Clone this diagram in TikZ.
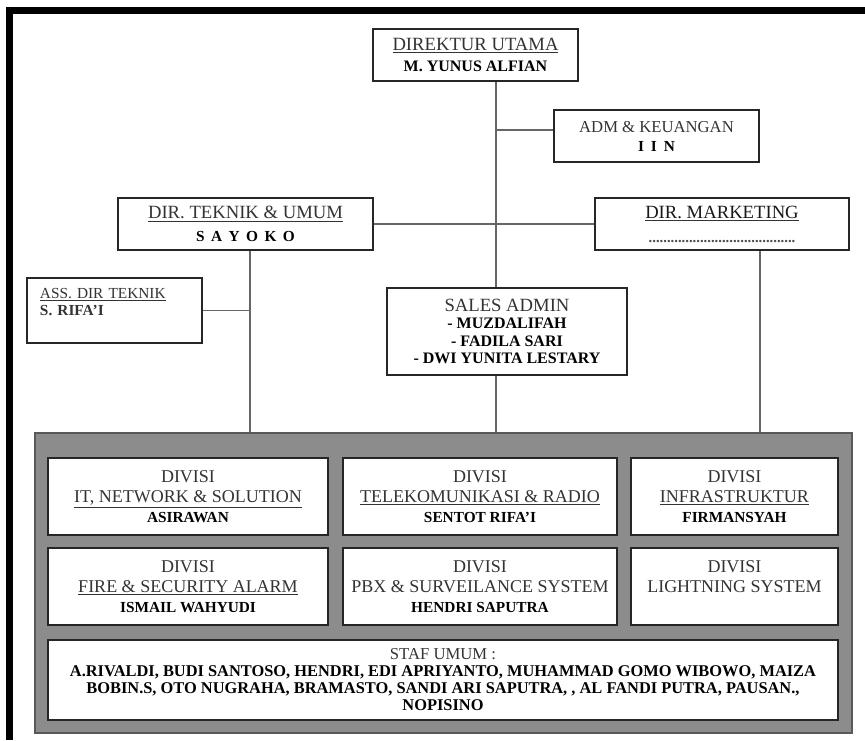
\documentclass[tikz,border=0pt]{standalone}
\usepackage{fontspec}
\setmainfont{Liberation Serif}
\newcommand{\uln}[1]{\underline{#1}}
\newcommand{\fs}[2]{\fontsize{#1}{#2}\selectfont}
\def\u{0.75pt}
\tikzset{
  bx/.style={draw=black!85, line width=1.6pt, fill=white, inner sep=0pt, align=center, text=black!80},
  conn/.style={draw=black!60, line width=1pt},
  panel/.style={draw=black!65, line width=1.2pt, fill=black!45, inner sep=0pt},
}
\begin{document}
\begin{tikzpicture}[x=0.75pt,y=-0.75pt]
\useasboundingbox (0,0) rectangle (865,740);
% frame bars
\fill[black] (6,7) rectangle (865,14);
\fill[black] (6,7) rectangle (13,740);
% gray panel
\node[panel, minimum width=817*\u, minimum height=300*\u] (panel) at (443.5,583) {};
% top boxes
\node[bx, minimum width=205*\u, minimum height=52*\u, font=\fs{14}{15.75}] (dir) at (475.5,55)
  {\uln{DIREKTUR UTAMA}\\{\fs{12}{15.75}\bfseries\color{black}M. YUNUS ALFIAN}};
\node[bx, minimum width=205*\u, minimum height=52*\u, font=\fs{12.5}{14.25}] (adm) at (656.5,136)
  {ADM \& KEUANGAN\\{\fs{11.5}{14.25}\bfseries\color{black}I\hspace{.45em}I\hspace{.45em}N}};
\node[bx, minimum width=255*\u, minimum height=52*\u, font=\fs{14}{17.25}] (tek) at (245.5,224)
  {\uln{DIR. TEKNIK \& UMUM}\\{\fs{11.5}{17.25}\bfseries\color{black}S\hspace{.42em}A\hspace{.42em}Y\hspace{.42em}O\hspace{.42em}K\hspace{.42em}O}};
\node[bx, minimum width=254*\u, minimum height=52*\u, font=\fs{14}{18}] (mkt) at (722,224)
  {\uln{\color{black!90}DIR. MARKETING}\\{\fs{11}{18}\bfseries\color{black!70}........................................}};
\node[bx, align=left, text width=149*\u, inner xsep=13*\u, minimum height=65*\u, font=\fs{11.5}{12.75}] (ass) at (114.5,310.5)
  {\uln{ASS. DIR TEKNIK}\\{\bfseries S. RIFA'I}\\\mbox{}};
\node[bx, minimum width=240*\u, minimum height=87*\u, font=\fs{14}{13}] (sales) at (507,331.5)
  {SALES ADMIN\\{\fs{12}{13}\bfseries\color{black}- MUZDALIFAH}\\{\fs{12}{13}\bfseries\color{black}- FADILA SARI}\\{\fs{12}{13}\bfseries\color{black}- DWI YUNITA LESTARY}};
% divisions
\node[bx, minimum width=280*\u, minimum height=77*\u, font=\fs{13.5}{15}] (it) at (188,496.5)
  {DIVISI\\\uln{IT, NETWORK \& SOLUTION}\\{\fs{11.5}{15}\bfseries\color{black}ASIRAWAN}};
\node[bx, minimum width=274*\u, minimum height=77*\u, font=\fs{13.5}{15}] (tele) at (480,496.5)
  {DIVISI\\\uln{TELEKOMUNIKASI \& RADIO}\\{\fs{11.5}{15}\bfseries\color{black}SENTOT RIFA'I}};
\node[bx, minimum width=207*\u, minimum height=77*\u, font=\fs{13.5}{15}] (infra) at (734.5,496.5)
  {DIVISI\\\uln{INFRASTRUKTUR}\\{\fs{11.5}{15}\bfseries\color{black}FIRMANSYAH}};
\node[bx, minimum width=280*\u, minimum height=77*\u, font=\fs{13.5}{15}] (fire) at (188,586.5)
  {DIVISI\\\uln{FIRE \& SECURITY ALARM}\\{\fs{11.5}{15}\bfseries\color{black}ISMAIL WAHYUDI}};
\node[bx, minimum width=274*\u, minimum height=77*\u, font=\fs{13.5}{15}] (pbx) at (480,586.5)
  {DIVISI\\PBX \& SURVEILANCE SYSTEM\\{\fs{11.5}{15}\bfseries\color{black}HENDRI SAPUTRA}};
\node[bx, minimum width=207*\u, minimum height=77*\u, font=\fs{13.5}{15}] (light) at (734.5,586.5)
  {DIVISI\\LIGHTNING SYSTEM\\\mbox{}};
\node[bx, minimum width=790*\u, minimum height=80*\u, font=\fs{12.5}{12.75}] (staf) at (443,680)
  {STAF UMUM :\\{\fs{12.3}{12.75}\bfseries\color{black}A.RIVALDI, BUDI SANTOSO, HENDRI, EDI APRIYANTO, MUHAMMAD GOMO WIBOWO, MAIZA}\\{\fs{12.3}{12.75}\bfseries\color{black}BOBIN.S, OTO NUGRAHA, BRAMASTO, SANDI ARI SAPUTRA, , AL FANDI PUTRA, PAUSAN.,}\\{\fs{12.3}{12.75}\bfseries\color{black}NOPISINO}};
% connectors
\coordinate (tk) at (496,0);
\coordinate (tx) at (250,0);
\coordinate (mx) at (760,0);
\coordinate (ay) at (0,130);
\draw[conn] (dir.south -| tk) -- (sales.north -| tk);
\draw[conn] (sales.south -| tk) -- (panel.north -| tk);
\draw[conn] (adm.west |- ay) -- (tk |- ay);
\draw[conn] (tek.east) -- (mkt.west);
\draw[conn] (tek.south -| tx) -- (panel.north -| tx);
\draw[conn] (ass.east) -- (ass.east -| tx);
\draw[conn] (mkt.south -| mx) -- (panel.north -| mx);
\end{tikzpicture}
\end{document}
